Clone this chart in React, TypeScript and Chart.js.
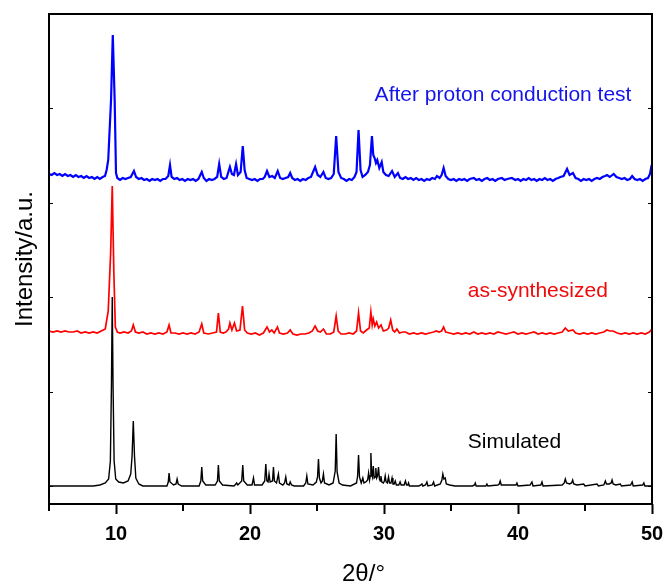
import React, { useEffect, useRef } from "react";
import { Chart, registerables } from "chart.js";

Chart.register(...registerables);

// [2θ (deg), intensity above own baseline (a.u.)]
const SIMULATED: number[][] = [
  [5, 0], [8.3, 0], [8.8, 1], [9.2, 3], [9.45, 7], [9.58, 25], [9.66, 100], [9.72, 189], [9.78, 100], [9.86, 25], [9.98, 7],
  [10.2, 4], [10.55, 3], [10.9, 5], [11.1, 12], [11.2, 30], [11.29, 65], [11.38, 30], [11.48, 8], [11.7, 2], [12.0, 0],
  [13.8, 0], [13.9, 4], [13.96, 13], [14.03, 4], [14.3, 1], [14.48, 2], [14.56, 7], [14.64, 2], [14.9, 0],
  [16.2, 0], [16.33, 5], [16.4, 19], [16.47, 5], [16.7, 1], [17.4, 1], [17.57, 5], [17.64, 21], [17.71, 5], [17.95, 1],
  [18.8, 0], [18.95, 2], [19.0, 3], [19.1, 1], [19.38, 5], [19.46, 21], [19.53, 5], [19.8, 1], [20.15, 1], [20.26, 8], [20.34, 1],
  [20.9, 1], [21.1, 5], [21.18, 22], [21.26, 5], [21.35, 4], [21.42, 12], [21.5, 4], [21.68, 5], [21.75, 19], [21.82, 5],
  [21.98, 3], [22.12, 12], [22.2, 3], [22.45, 1], [22.58, 3], [22.67, 9], [22.75, 2], [22.92, 1], [23.0, 4], [23.1, 1], [23.3, 0],
  [24.0, 0], [24.16, 3], [24.24, 10], [24.32, 2], [24.7, 1], [24.95, 4], [25.04, 9], [25.11, 27], [25.18, 8], [25.3, 3],
  [25.4, 5], [25.48, 12], [25.56, 3], [25.9, 1], [26.2, 3], [26.36, 15], [26.43, 52], [26.5, 14], [26.65, 3], [26.9, 1], [27.5, 0],
  [27.95, 3], [28.03, 10], [28.1, 31], [28.17, 9], [28.3, 3], [28.42, 8], [28.5, 3], [28.65, 4], [28.78, 6], [28.85, 13],
  [28.92, 6], [28.97, 10], [29.02, 33], [29.08, 12], [29.14, 9], [29.2, 20], [29.27, 8], [29.33, 9], [29.39, 18], [29.45, 8],
  [29.52, 10], [29.59, 19], [29.66, 7], [29.72, 5], [29.77, 10], [29.84, 4], [29.95, 3], [30.03, 5], [30.09, 10], [30.16, 4],
  [30.25, 3], [30.34, 9], [30.41, 3], [30.52, 3], [30.6, 8], [30.67, 2], [30.76, 2], [30.84, 5], [30.92, 1], [31.1, 1],
  [31.2, 4], [31.28, 1], [31.5, 1], [31.6, 5], [31.68, 1], [31.78, 1], [31.83, 3], [31.9, 0],
  [32.6, 0], [32.75, 1], [32.83, 2], [32.9, 0], [33.1, 1], [33.2, 4], [33.28, 0], [33.6, 1], [33.7, 4], [33.78, 0],
  [34.2, 2], [34.32, 6], [34.39, 12], [34.47, 7], [34.57, 8], [34.65, 2], [34.9, 1], [35.3, 0],
  [36.6, 0], [36.75, 1], [36.81, 3], [36.88, 0], [37.6, 0], [37.68, 2], [37.75, 0], [38.5, 1], [38.6, 2], [38.67, 5], [38.75, 1],
  [39.85, 1], [39.92, 3], [40.0, 0], [40.9, 1], [41.04, 4], [41.12, 0], [41.7, 1], [41.79, 4], [41.87, 0],
  [43.3, 1], [43.45, 3], [43.53, 7], [43.62, 3], [43.85, 2], [44.0, 3], [44.08, 6], [44.16, 2], [44.4, 1], [44.9, 2], [45.0, 0],
  [45.9, 2], [46.0, 0], [46.4, 1], [46.52, 5], [46.6, 2], [46.8, 2], [46.95, 3], [47.02, 6], [47.1, 2], [47.3, 1],
  [47.64, 2], [47.72, 0], [48.4, 1], [48.52, 4], [48.6, 0], [49.3, 1], [49.39, 3], [49.47, 0], [50, 0],
];

const AS_SYNTHESIZED: number[][] = [
  [5.0, 2], [5.3, 1], [5.6, 2], [5.9, 1], [6.2, 2], [6.5, 1], [6.8, 1], [7.1, 2], [7.4, 0], [7.7, 1], [8.0, 0], [8.3, 1],
  [8.6, 0], [8.9, 2], [9.2, 4], [9.42, 22], [9.6, 80], [9.72, 147], [9.84, 60], [9.95, 6], [10.1, 1], [10.3, 0], [10.6, 1],
  [10.9, 0], [11.15, 2], [11.29, 8], [11.45, 1], [11.7, 0], [12.0, 1], [12.3, -1], [12.6, 0], [12.9, -1], [13.2, 0],
  [13.5, -1], [13.8, 1], [13.96, 8], [14.1, 0], [14.4, 0], [14.7, -1], [15.0, 0], [15.3, -1], [15.6, 0], [15.9, -1],
  [16.2, 1], [16.4, 9], [16.55, 0], [16.9, -1], [17.2, 0], [17.5, 1], [17.64, 20], [17.78, 1], [18.0, 0], [18.2, 1],
  [18.4, 4], [18.5, 10], [18.65, 3], [18.84, 10], [19.0, 2], [19.25, 3], [19.44, 27], [19.6, 3], [19.8, 0], [20.1, -1],
  [20.4, 0], [20.7, -2], [21.0, 0], [21.27, 6], [21.45, 1], [21.63, 3], [21.8, 0], [22.05, 6], [22.2, 0], [22.5, -1],
  [22.8, 0], [23.0, 3], [23.2, -1], [23.5, -2], [23.8, -1], [24.1, -1], [24.4, 0], [24.65, 2], [24.86, 7], [25.05, 2],
  [25.25, 1], [25.48, 4], [25.7, -1], [26.0, -1], [26.25, 1], [26.43, 17], [26.58, 2], [26.8, -1], [27.1, -1], [27.4, 0],
  [27.7, -1], [27.95, 2], [28.1, 20], [28.25, 2], [28.45, 0], [28.7, 3], [28.9, 5], [29.02, 21], [29.12, 8], [29.2, 14],
  [29.32, 7], [29.45, 11], [29.6, 5], [29.78, 8], [29.95, 2], [30.2, 3], [30.35, 5], [30.5, 13], [30.65, 3], [30.8, 1],
  [30.96, 4], [31.15, 0], [31.4, 1], [31.6, 1], [31.9, -1], [32.2, 0], [32.5, -1], [32.8, 0], [33.1, -1], [33.4, 0],
  [33.7, 1], [33.9, 2], [34.1, 1], [34.3, 2], [34.45, 6], [34.6, 1], [34.9, 0], [35.2, -1], [35.5, 0], [35.8, -1],
  [36.1, 0], [36.4, -1], [36.7, 1], [37.0, -1], [37.3, 0], [37.6, -1], [37.9, 0], [38.2, -1], [38.5, 1], [38.8, 0],
  [39.1, -1], [39.4, 0], [39.7, 1], [40.0, -1], [40.3, 0], [40.6, -1], [40.9, 0], [41.2, 1], [41.5, -1], [41.8, 0],
  [42.1, -1], [42.4, 0], [42.7, -1], [43.0, 0], [43.3, 1], [43.53, 5], [43.75, 2], [44.1, 3], [44.3, 0], [44.6, -1],
  [44.9, 0], [45.2, -1], [45.5, 0], [45.8, -1], [46.1, 0], [46.4, 1], [46.64, 3], [46.85, 2], [47.1, 2], [47.4, 0],
  [47.7, -1], [48.0, 0], [48.3, -1], [48.6, 0], [48.9, -1], [49.2, 0], [49.5, -1], [49.8, 1], [50.0, 4],
];

const AFTER_TEST: number[][] = [
  [5.0, 6], [5.2, 5], [5.4, 7], [5.6, 5], [5.8, 6], [6.0, 4], [6.2, 6], [6.4, 4], [6.6, 5], [6.8, 3], [7.0, 5], [7.2, 3],
  [7.4, 4], [7.6, 2], [7.8, 4], [8.0, 2], [8.2, 3], [8.4, 1], [8.6, 3], [8.8, 1], [9.0, 3], [9.18, 4], [9.3, 10], [9.42, 20],
  [9.63, 80], [9.76, 145], [9.9, 80], [10.0, 7], [10.1, 2], [10.3, 0], [10.5, 2], [10.7, 1], [10.9, 2], [11.1, 3],
  [11.34, 9], [11.5, 3], [11.7, 1], [11.9, 2], [12.1, 0], [12.3, 1], [12.5, -1], [12.7, 1], [12.9, 0], [13.1, 1], [13.3, -1],
  [13.5, 1], [13.7, 1], [13.9, 4], [14.03, 15], [14.15, 3], [14.35, 1], [14.55, 2], [14.75, 0], [14.95, 1], [15.15, -1],
  [15.35, 1], [15.55, 0], [15.75, 1], [15.95, -1], [16.15, 1], [16.4, 8], [16.55, 2], [16.75, -1], [16.95, 1], [17.15, 0],
  [17.35, 1], [17.55, 3], [17.7, 16], [17.85, 3], [18.05, 1], [18.25, 2], [18.5, 13], [18.65, 6], [18.8, 5], [18.96, 16],
  [19.1, 5], [19.3, 8], [19.46, 34], [19.6, 10], [19.75, 2], [19.95, 1], [20.15, 0], [20.35, 1], [20.55, -1], [20.75, 1],
  [20.95, 1], [21.1, 3], [21.27, 9], [21.45, 3], [21.65, 4], [21.85, 2], [22.07, 9], [22.25, 2], [22.45, 1], [22.65, 2],
  [22.85, 3], [23.0, 7], [23.15, 2], [23.35, 0], [23.55, 1], [23.75, -1], [23.95, 1], [24.15, 0], [24.35, 2], [24.55, 3],
  [24.86, 13], [25.05, 5], [25.25, 3], [25.48, 8], [25.65, 2], [25.85, 1], [26.05, 2], [26.25, 6], [26.43, 44], [26.6, 8],
  [26.8, 2], [27.0, 1], [27.2, -1], [27.4, 1], [27.6, 0], [27.8, 3], [27.95, 8], [28.1, 50], [28.25, 10], [28.4, 3],
  [28.6, 5], [28.8, 8], [28.95, 15], [29.1, 44], [29.2, 25], [29.3, 22], [29.4, 17], [29.5, 20], [29.65, 12], [29.83, 18],
  [29.95, 8], [30.15, 5], [30.35, 4], [30.6, 9], [30.8, 3], [31.04, 7], [31.2, 2], [31.4, 1], [31.6, 3], [31.8, 1],
  [32.0, 2], [32.2, 0], [32.4, 2], [32.6, 0], [32.8, 1], [33.0, -1], [33.2, 1], [33.4, 0], [33.6, 2], [33.8, 1], [33.95, 4],
  [34.15, 2], [34.3, 5], [34.45, 12], [34.6, 4], [34.8, 1], [35.0, 0], [35.2, 1], [35.4, -1], [35.6, 1], [35.8, 0],
  [36.0, 1], [36.2, -1], [36.4, 1], [36.7, 2], [36.9, 0], [37.1, 1], [37.3, -1], [37.5, 1], [37.7, 2], [37.9, 0], [38.1, 1],
  [38.3, -1], [38.5, 1], [38.79, 2], [39.0, 0], [39.2, 1], [39.54, 2], [39.8, 0], [40.0, 1], [40.2, -1], [40.4, 1], [40.6, 0],
  [40.8, 2], [41.0, 0], [41.2, 1], [41.4, -1], [41.6, 1], [41.8, 0], [42.0, 2], [42.2, 0], [42.4, 1], [42.6, -1], [42.8, 1],
  [43.0, 2], [43.16, 3], [43.4, 4], [43.66, 11], [43.85, 5], [44.1, 7], [44.3, 2], [44.5, 1], [44.7, -1], [44.9, 1],
  [45.1, 0], [45.3, 1], [45.5, -1], [45.7, 1], [45.9, 2], [46.1, 1], [46.3, 3], [46.5, 4], [46.64, 5], [46.85, 3],
  [47.14, 6], [47.35, 3], [47.55, 2], [47.75, 1], [47.95, 2], [48.15, 0], [48.35, 1], [48.52, 4], [48.7, 1], [48.9, 0],
  [49.1, 1], [49.3, -1], [49.5, 1], [49.7, 2], [49.85, 6], [49.93, 12], [50.0, 10],
];

// vertical stacking offsets of the three patterns
const OFFSET_SIMULATED = 0;
const OFFSET_AS_SYNTHESIZED = 153;
const OFFSET_AFTER_TEST = 306;

const X_MIN = 5;
const X_MAX = 50;
const X_MAJOR_TICKS = [10, 20, 30, 40, 50];
const X_MINOR_TICKS = [5, 15, 25, 35, 45];
const Y_MIN = -18;
const Y_MAX = 472;
const Y_TICKS = [0, 94.4, 188.8, 283.2, 377.6, 472];

const SERIES_LABELS = [
  { text: "After proton conduction test", x: 29.3, y: 385, color: "rgb(20,20,235)" },
  { text: "as-synthesized", x: 36.25, y: 189, color: "rgb(240,10,10)" },
  { text: "Simulated", x: 36.25, y: 38, color: "#000000" },
];

const FONT = '"Liberation Sans", Arial, Helvetica, sans-serif';

const toPoints = (rows: number[][], off: number) => rows.map(([x, y]) => ({ x, y: y + off }));

const decorPlugin = {
  id: "decor",
  afterDraw(chart: any) {
    const { ctx, chartArea: a, scales } = chart;
    const x = scales.x;
    const y = scales.y;
    ctx.save();
    ctx.strokeStyle = "#000";
    ctx.lineWidth = 2;
    ctx.strokeRect(a.left, a.top, a.right - a.left, a.bottom - a.top);
    ctx.beginPath();
    for (const v of X_MINOR_TICKS) {
      const px = Math.round(x.getPixelForValue(v));
      ctx.moveTo(px, a.bottom);
      ctx.lineTo(px, a.bottom + 7);
    }
    ctx.stroke();
    ctx.lineWidth = 1.2;
    ctx.beginPath();
    for (const v of Y_TICKS) {
      const py = Math.round(y.getPixelForValue(v)) + 0.5;
      ctx.moveTo(a.left, py);
      ctx.lineTo(a.left + 4, py);
      ctx.moveTo(a.right, py);
      ctx.lineTo(a.right - 4, py);
    }
    ctx.stroke();
    ctx.textAlign = "left";
    ctx.textBaseline = "alphabetic";
    ctx.font = `21px ${FONT}`;
    for (const l of SERIES_LABELS) {
      ctx.fillStyle = l.color;
      ctx.fillText(l.text, x.getPixelForValue(l.x), y.getPixelForValue(l.y));
    }
    // x-axis title
    ctx.fillStyle = "#000";
    ctx.textAlign = "center";
    ctx.font = `24px ${FONT}`;
    ctx.fillText("2θ/°", (a.left + a.right) / 2 + 13, 581);
    ctx.restore();
  },
};

export default function App() {
  const canvasRef = useRef<HTMLCanvasElement | null>(null);

  useEffect(() => {
    document.body.style.margin = "0";
    const canvas = canvasRef.current;
    if (!canvas) return;
    const chart = new Chart(canvas, {
      type: "line",
      data: {
        datasets: [
          {
            label: "Simulated",
            data: toPoints(SIMULATED, OFFSET_SIMULATED),
            borderColor: "#000000",
            borderWidth: 1.4,
            pointRadius: 0,
            tension: 0,
          },
          {
            label: "as-synthesized",
            data: toPoints(AS_SYNTHESIZED, OFFSET_AS_SYNTHESIZED),
            borderColor: "rgb(255,0,0)",
            borderWidth: 1.7,
            pointRadius: 0,
            tension: 0,
          },
          {
            label: "After proton conduction test",
            data: toPoints(AFTER_TEST, OFFSET_AFTER_TEST),
            borderColor: "rgb(0,0,255)",
            borderWidth: 2.2,
            pointRadius: 0,
            tension: 0,
          },
        ],
      },
      options: {
        animation: false,
        responsive: false,
        maintainAspectRatio: false,
        layout: { padding: { top: 14, right: 14, left: 0, bottom: 0 } },
        plugins: { legend: { display: false }, tooltip: { enabled: false } },
        scales: {
          x: {
            type: "linear",
            position: "bottom",
            min: X_MIN,
            max: X_MAX,
            afterBuildTicks: (s: any) => {
              s.ticks = X_MAJOR_TICKS.map((v) => ({ value: v }));
            },
            afterFit: (s: any) => {
              s.height = 82;
              s.paddingLeft = 0;
              s.paddingRight = 0;
            },
            border: { display: false },
            grid: {
              display: true,
              drawOnChartArea: false,
              drawTicks: true,
              tickLength: 10,
              tickWidth: 2,
              tickColor: "#000",
            },
            ticks: {
              color: "#000",
              padding: 8,
              maxRotation: 0,
              autoSkip: false,
              font: { family: FONT, size: 20, weight: "bold" },
            },
            title: { display: false },
          },
          y: {
            type: "linear",
            min: Y_MIN,
            max: Y_MAX,
            afterBuildTicks: (s: any) => {
              s.ticks = Y_TICKS.map((v) => ({ value: v }));
            },
            afterFit: (s: any) => {
              s.width = 49;
              s.paddingTop = 0;
              s.paddingBottom = 0;
            },
            border: { display: false },
            grid: { display: false },
            ticks: { display: false },
            title: {
              display: true,
              text: "Intensity/a.u.",
              color: "#000",
              font: { family: FONT, size: 24, lineHeight: 1.2 },
              padding: { top: 11, bottom: 0 },
            },
          },
        },
      },
      plugins: [decorPlugin],
    });
    return () => chart.destroy();
  }, []);

  return (
    <div style={{ width: 666, height: 586, position: "relative" }}>
      <canvas ref={canvasRef} width={666} height={586} style={{ display: "block" }} />
    </div>
  );
}
